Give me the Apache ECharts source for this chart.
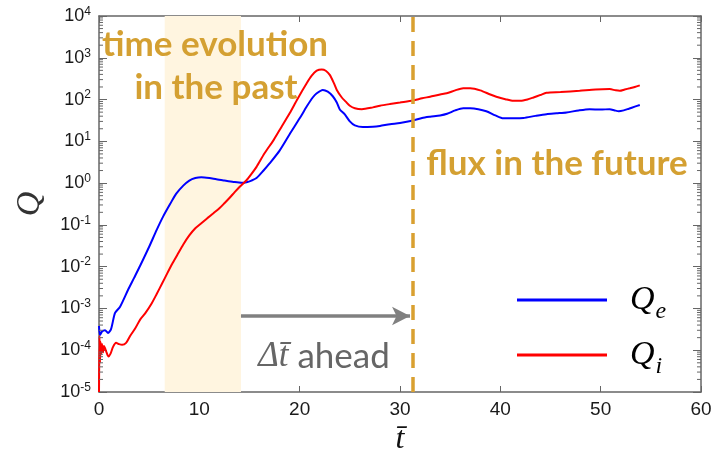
<!DOCTYPE html>
<html>
<head>
<meta charset="utf-8">
<script src="https://cdn.jsdelivr.net/npm/echarts@6/dist/echarts.min.js"></script>
<style>
  html, body { margin: 0; padding: 0; background: #ffffff; }
  #chart { width: 715px; height: 452px; }
</style>
</head>
<body>
<div id="chart"></div>
<script>
// Electron heat flux Q_e versus normalised time
const timeE = [0, 0.1, 0.3, 0.6, 0.9, 1.2, 1.6, 2.1, 2.9, 3.5, 4.1, 5.0, 5.75, 6.4, 7.1, 7.7, 8.4, 9.0, 9.6, 10.2,
  11.0, 11.7, 12.5, 13.4, 14.2, 14.7, 15.2, 15.7, 16.4, 17.0, 18.0, 19.0, 20.0, 20.7, 21.3, 21.7, 22.3, 22.8, 23.3, 23.7,
  24.0, 24.5, 25.0, 25.5, 26.3, 27.3, 28.0, 29.0, 30.0, 31.3, 32.2, 33.0, 34.0, 34.7, 35.5, 36.3, 37.0, 37.8, 38.6, 39.5,
  40.3, 41.5, 42.3, 43.5, 44.6, 45.6, 46.6, 47.8, 48.9, 50.0, 50.9, 51.4, 51.8, 52.3, 52.8, 53.4, 53.9];
const fluxE = [3.8e-4, 2.3e-4, 2.8e-4, 3.0e-4, 2.6e-4, 3.2e-4, 7.8e-4, 1.1e-3, 2.8e-3, 5.4e-3, 1.05e-2, 3.0e-2, 7.6e-2, 0.16, 0.32, 0.56, 0.87, 1.15, 1.32, 1.38,
  1.32, 1.23, 1.15, 1.07, 1.02, 1.05, 1.15, 1.32, 2.0, 2.95, 6.0, 14.8, 35.5, 68, 112, 141, 170, 155, 120, 85,
  58, 44, 30, 24, 21.9, 22.4, 23.4, 25.7, 27.5, 31.6, 36.3, 38.9, 41.7, 45.7, 55, 61.7, 61.7, 58.9, 52.5, 41.7,
  35.5, 35.5, 36.3, 40.7, 44.7, 46.8, 49, 55, 58.9, 57.5, 58.9, 55, 52.5, 55, 60.3, 67.6, 74.1];

// Ion heat flux Q_i versus normalised time
const timeI = [0, 0.05, 0.1, 0.15, 0.2, 0.3, 0.4, 0.5, 0.6, 0.75, 0.95, 1.15, 1.4, 1.7, 2.0, 2.3, 2.7, 3.1, 3.6, 4.1,
  4.6, 5.2, 5.7, 6.3, 6.8, 7.3, 7.8, 8.4, 9.0, 9.6, 10.2, 10.8, 11.4, 12.0, 12.5, 13.0, 13.5, 14.0, 14.7, 15.2,
  15.7, 16.5, 17.4, 18.2, 19.0, 19.8, 20.7, 21.2, 21.7, 22.2, 22.6, 23.0, 23.4, 23.7, 24.2, 24.6, 25.0, 25.5, 26.2, 27.3,
  28.0, 29.0, 30.0, 31.3, 32.2, 33.0, 34.0, 34.65, 35.5, 36.3, 37.0, 38.0, 39.0, 39.6, 40.5, 41.3, 42.0, 42.7, 43.3, 44.0,
  44.6, 46.0, 47.9, 49.5, 50.9, 51.5, 51.9, 52.4, 52.9, 53.4, 53.9];
const fluxI = [1.0e-5, 2.2e-4, 5.0e-5, 1.6e-4, 7.9e-5, 1.4e-4, 8.9e-5, 1.26e-4, 1.12e-4, 8.9e-5, 7.1e-5, 8.3e-5, 1.2e-4, 1.5e-4, 1.4e-4, 1.35e-4, 1.5e-4, 2.2e-4, 3.3e-4, 5.4e-4,
  7.6e-4, 1.26e-3, 2.1e-3, 4.0e-3, 6.9e-3, 1.17e-2, 1.9e-2, 3.4e-2, 5.6e-2, 8.3e-2, 0.11, 0.145, 0.19, 0.25, 0.33, 0.44, 0.60, 0.81, 1.17, 1.66,
  2.45, 5.2, 10.7, 22.4, 46.8, 105, 245, 372, 490, 525, 490, 389, 251, 170, 112, 89, 71, 62, 59, 65,
  71, 78, 85, 95, 107, 117, 132, 141, 166, 186, 186, 166, 132, 117, 102, 93, 93, 100, 112, 129,
  145, 151, 162, 174, 178, 166, 162, 174, 186, 200, 219];

// Annotation values (in data units)
const pastWindow = [6.55, 14.15];   // shaded input window
const forecastTime = 31.3;          // prediction time
const aheadArrow = [14.15, 31.0];   // arrow span
const aheadLevel = 6.6e-4;          // arrow height on the Q axis

// Axis ranges
const xRange = [0, 60, 10];
const yRange = [1e-5, 1e4];

// Minor log ticks (2..9 in every decade)
const minorTickValues = [];
for (let e = -5; e < 4; e++) {
  for (let m = 2; m <= 9; m++) minorTickValues.push([0, m * Math.pow(10, e)]);
}

const gold = '#D4A032';
const frame = '#666666';

const chart = echarts.init(document.getElementById('chart'), null, { renderer: 'canvas' });

function pair(xs, ys) { return xs.map((x, i) => [x, ys[i]]); }

const supFormatter = v => {
  const e = Math.round(Math.log10(v));
  return '{b|10}{s|' + e + '}';
};

const option = {
  animation: false,
  backgroundColor: '#ffffff',
  grid: { left: 99, right: 14, top: 16, bottom: 60, containLabel: false, outerBoundsMode: 'none' },
  xAxis: [
    {
      type: 'value', min: xRange[0], max: xRange[1], interval: xRange[2],
      position: 'bottom',
      name: 't\u0304', nameLocation: 'middle', nameGap: 27,
      nameTextStyle: { fontFamily: 'Liberation Serif', fontStyle: 'italic', fontSize: 32, color: '#111' },
      axisLine: { show: true, onZero: false, lineStyle: { color: frame, width: 1.5 } },
      axisTick: { show: true, inside: true, length: 6, lineStyle: { color: frame } },
      axisLabel: { fontFamily: 'Liberation Sans', fontSize: 19, color: '#1a1a1a', margin: 8 },
      splitLine: { show: false }
    },
    {
      type: 'value', min: xRange[0], max: xRange[1], interval: xRange[2],
      position: 'top',
      axisLine: { show: true, onZero: false, lineStyle: { color: frame, width: 1.5 } },
      axisTick: { show: true, inside: true, length: 6, lineStyle: { color: frame } },
      axisLabel: { show: false },
      splitLine: { show: false }
    }
  ],
  yAxis: [
    {
      type: 'log', logBase: 10, min: yRange[0], max: yRange[1], splitNumber: 9,
      position: 'left',
      name: 'Q', nameLocation: 'middle', nameGap: 52, nameRotate: 90,
      nameTextStyle: { fontFamily: 'Liberation Serif', fontStyle: 'italic', fontSize: 34, color: '#333' },
      axisLine: { show: true, onZero: false, lineStyle: { color: frame, width: 1.5 } },
      axisTick: { show: true, inside: true, length: 8, lineStyle: { color: frame } },
      axisLabel: {
        margin: 8,
        formatter: supFormatter,
        rich: {
          b: { fontFamily: 'Liberation Sans', fontSize: 18, color: '#1a1a1a' },
          s: { fontFamily: 'Liberation Sans', fontSize: 12, color: '#1a1a1a', verticalAlign: 'bottom', padding: [0, 0, 9, 0] }
        }
      },
      splitLine: { show: false }
    },
    {
      type: 'log', logBase: 10, min: yRange[0], max: yRange[1], splitNumber: 9,
      position: 'right',
      axisLine: { show: true, onZero: false, lineStyle: { color: frame, width: 1.5 } },
      axisTick: { show: true, inside: true, length: 8, lineStyle: { color: frame } },
      axisLabel: { show: false },
      splitLine: { show: false }
    }
  ],
  legend: {
    orient: 'vertical',
    left: 512, top: 278,
    itemWidth: 90, itemHeight: 3, itemGap: 14,
    icon: 'rect',
    selectedMode: false,
    data: ['Qe', 'Qi'],
    formatter: n => n === 'Qe' ? '{q|Q}{s|e}' : '{q|Q}{s|i}',
    textStyle: {
      rich: {
        q: { fontFamily: 'Liberation Serif', fontStyle: 'italic', fontSize: 34, lineHeight: 40, color: '#000', padding: [0, 0, 0, 18] },
        s: { fontFamily: 'Liberation Serif', fontStyle: 'italic', fontSize: 24, lineHeight: 40, color: '#000', verticalAlign: 'bottom', padding: [0, 0, -4, 1] }
      }
    }
  },
  graphic: [
    {
      type: 'text', x: 215, y: 45, z: 20,
      style: { text: 'time evolution', align: 'center', verticalAlign: 'middle',
        fontFamily: 'Lato', fontWeight: 'bold', fontSize: 35, fill: gold }
    },
    {
      type: 'text', x: 216, y: 88, z: 20,
      style: { text: 'in the past', align: 'center', verticalAlign: 'middle',
        fontFamily: 'Lato', fontWeight: 'bold', fontSize: 35, fill: gold }
    },
    {
      type: 'text', x: 557, y: 164, z: 20,
      style: { text: 'flux in the future', align: 'center', verticalAlign: 'middle',
        fontFamily: 'Lato', fontWeight: 'bold', fontSize: 35, fill: gold }
    },
    {
      type: 'text', x: 324, y: 357, z: 20,
      style: {
        text: '{d|\u0394}{t|t\u0304}{a| ahead}', align: 'center', verticalAlign: 'middle',
        rich: {
          d: { fontFamily: 'Liberation Serif', fontStyle: 'italic', fontSize: 35, fill: '#666666' },
          t: { fontFamily: 'Liberation Serif', fontStyle: 'italic', fontSize: 35, fill: '#666666' },
          a: { fontFamily: 'Lato', fontSize: 35, fill: '#666666' }
        }
      }
    }
  ],
  series: [
    {
      // shaded window of past evolution
      name: 'window', type: 'line', data: [], z: 0, silent: true,
      markArea: {
        silent: true,
        itemStyle: { color: '#FFF5E0' },
        data: [[{ xAxis: pastWindow[0] }, { xAxis: pastWindow[1] }]]
      }
    },
    {
      name: 'Qe', type: 'line', data: pair(timeE, fluxE),
      showSymbol: false, smooth: 0.25, z: 3,
      lineStyle: { color: '#0000FF', width: 2 }, itemStyle: { color: '#0000FF' }
    },
    {
      name: 'Qi', type: 'line', data: pair(timeI, fluxI),
      showSymbol: false, smooth: 0.25, z: 3,
      lineStyle: { color: '#FF0000', width: 2 }, itemStyle: { color: '#FF0000' }
    },
    {
      // prediction marker and look-ahead arrow
      name: 'markers', type: 'line', data: [], z: 6, silent: true,
      markLine: {
        silent: true,
        symbol: ['none', 'none'],
        label: { show: false },
        data: [
          { xAxis: forecastTime, lineStyle: { color: '#D9A030', width: 3.5, type: [15, 9] } },
          [
            { coord: [aheadArrow[0], aheadLevel], symbol: 'none', lineStyle: { color: '#808080', width: 3.5, type: 'solid' } },
            { coord: [aheadArrow[1], aheadLevel], symbol: 'arrow', symbolSize: [14, 18] }
          ]
        ]
      }
    },
    {
      // minor log ticks on both vertical frame edges
      name: 'minorTicks', type: 'custom', data: minorTickValues, z: 4, silent: true, clip: false,
      renderItem: (params, api) => {
        const y = api.coord([0, api.value(1)])[1];
        const cs = params.coordSys;
        const st = { stroke: frame, lineWidth: 1 };
        return {
          type: 'group',
          children: [
            { type: 'line', shape: { x1: cs.x, y1: y, x2: cs.x + 4, y2: y }, style: st },
            { type: 'line', shape: { x1: cs.x + cs.width - 4, y1: y, x2: cs.x + cs.width, y2: y }, style: st }
          ]
        };
      }
    }
  ]
};

chart.setOption(option);
</script>
</body>
</html>
